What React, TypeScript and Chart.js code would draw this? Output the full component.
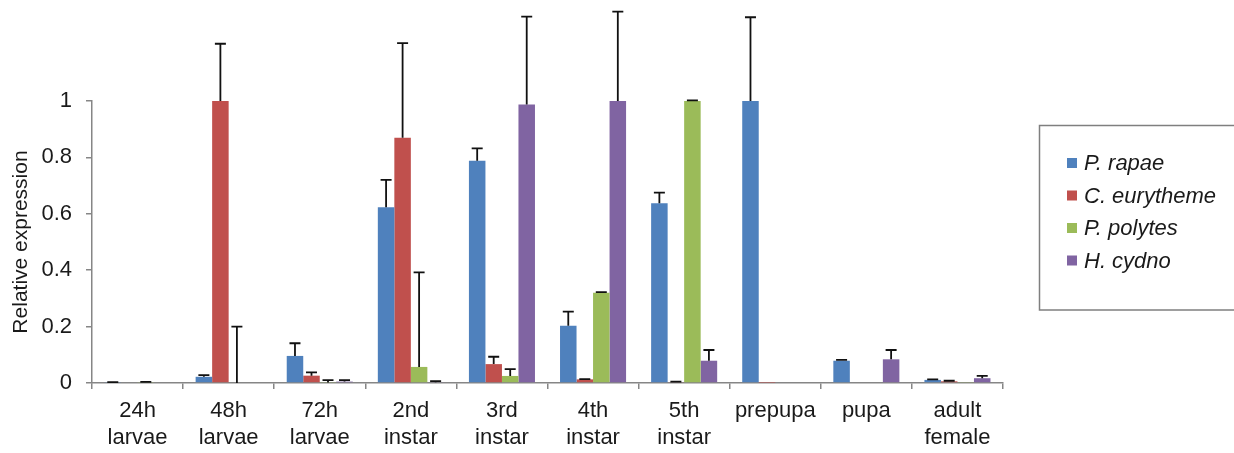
import React, { useEffect, useRef } from "react";
import { Chart, registerables } from "chart.js";

Chart.register(...registerables);

const categories: (string | string[])[] = [
  ["24h", "larvae"],
  ["48h", "larvae"],
  ["72h", "larvae"],
  ["2nd", "instar"],
  ["3rd", "instar"],
  ["4th", "instar"],
  ["5th", "instar"],
  "prepupa",
  "pupa",
  ["adult", "female"],
];

const seriesNames = ["P. rapae", "C. eurytheme", "P. polytes", "H. cydno"];
const seriesColors = ["#4F81BD", "#C0504D", "#9BBB59", "#8064A2"];

const pRapae = [0.002, 0.022, 0.096, 0.623, 0.788, 0.203, 0.637, 1.0, 0.079, 0.011];
const pRapaeErr = [0.001, 0.006, 0.045, 0.097, 0.044, 0.05, 0.038, 0.297, 0.003, 0.002];
const cEurytheme = [0, 1.0, 0.026, 0.87, 0.067, 0.013, 0.003, 0.001, 0, 0.006];
const cEurythemeErr = [0, 0.203, 0.012, 0.335, 0.026, 0.001, 0.002, 0, 0, 0.002];
const pPolytes = [0.002, 0, 0.002, 0.057, 0.025, 0.32, 1.0, 0, 0, 0.002];
const pPolytesErr = [0.002, 0.2, 0.008, 0.335, 0.024, 0.002, 0.002, 0, 0, 0];
const hCydno = [0, 0, 0.005, 0.003, 0.988, 1.0, 0.079, 0, 0.084, 0.017];
const hCydnoErr = [0, 0, 0.005, 0.004, 0.311, 0.317, 0.038, 0, 0.033, 0.008];

const yTicks = [0, 0.2, 0.4, 0.6, 0.8, 1];

const seriesValues = [pRapae, cEurytheme, pPolytes, hCydno];
const seriesErrors = [pRapaeErr, cEurythemeErr, pPolytesErr, hCydnoErr];

const FONT = "'Liberation Sans', Arial, sans-serif";
const AXIS = "#868686";

const errorBarPlugin = {
  id: "errorBars",
  afterDatasetsDraw(chart: any) {
    const ctx = chart.ctx;
    const yScale = chart.scales.y;
    ctx.save();
    ctx.strokeStyle = "#111111";
    ctx.lineWidth = 1.8;
    chart.data.datasets.forEach((ds: any, di: number) => {
      const meta = chart.getDatasetMeta(di);
      const errs = seriesErrors[di];
      meta.data.forEach((bar: any, i: number) => {
        const err = errs[i];
        if (!err) return;
        const v = ds.data[i];
        const yBase = yScale.getPixelForValue(v);
        const yTop = yScale.getPixelForValue(v + err);
        const x = bar.x;
        ctx.beginPath();
        ctx.moveTo(x, yBase);
        ctx.lineTo(x, yTop);
        ctx.moveTo(x - 5.5, yTop);
        ctx.lineTo(x + 5.5, yTop);
        ctx.stroke();
      });
    });
    ctx.restore();
  },
};

const legendBoxPlugin = {
  id: "legendBox",
  afterDraw(chart: any) {
    const ctx = chart.ctx;
    ctx.save();
    ctx.strokeStyle = "#7f7f7f";
    ctx.lineWidth = 1.5;
    ctx.strokeRect(1039.5, 125.5, 210, 184.5);
    ctx.font = `italic 22px ${FONT}`;
    ctx.textBaseline = "middle";
    ctx.textAlign = "left";
    chart.data.datasets.forEach((ds: any, i: number) => {
      const cy = 163 + i * 32.5;
      ctx.fillStyle = ds.backgroundColor;
      ctx.fillRect(1067, cy - 5, 10, 10);
      ctx.fillStyle = "#1a1a1a";
      ctx.fillText(ds.label, 1084, cy + 1);
    });
    ctx.restore();
  },
};

export default function App() {
  const canvasRef = useRef<HTMLCanvasElement | null>(null);

  useEffect(() => {
    if (!canvasRef.current) return;
    const chart = new Chart(canvasRef.current, {
      type: "bar",
      data: {
        labels: categories as any,
        datasets: seriesNames.map((name, i) => ({
          label: name,
          data: seriesValues[i],
          backgroundColor: seriesColors[i],
          borderWidth: 0,
          categoryPercentage: 0.725,
          barPercentage: 1,
        })),
      },
      options: {
        animation: false,
        responsive: true,
        maintainAspectRatio: false,
        layout: { padding: { top: 101, right: 231, bottom: 0, left: 0 } },
        plugins: {
          legend: { display: false },
          tooltip: { enabled: false },
        },
        scales: {
          x: {
            afterFit(scale: any) {
              scale.height = 70;
            },
            grid: {
              display: true,
              offset: true,
              drawOnChartArea: false,
              drawTicks: true,
              tickLength: 6,
              color: AXIS,
              lineWidth: 1.5,
            },
            border: { display: true, color: AXIS, width: 1.5 },
            ticks: {
              color: "#1a1a1a",
              font: { family: FONT, size: 22, lineHeight: 1.23 },
              padding: 8,
              maxRotation: 0,
              autoSkip: false,
            },
          },
          y: {
            min: 0,
            max: 1,
            afterFit(scale: any) {
              scale.width = 92;
            },
            afterBuildTicks(scale: any) {
              scale.ticks = yTicks.map((v) => ({ value: v }));
            },
            grid: {
              display: true,
              drawOnChartArea: false,
              drawTicks: true,
              tickLength: 6,
              color: AXIS,
              lineWidth: 1.5,
            },
            border: { display: true, color: AXIS, width: 1.5 },
            ticks: {
              color: "#1a1a1a",
              font: { family: FONT, size: 22 },
              padding: 14,
              callback: (v: any) => String(Math.round(Number(v) * 10) / 10),
            },
            title: {
              display: true,
              text: "Relative expression",
              color: "#1a1a1a",
              font: { family: FONT, size: 21 },
              padding: { top: 9, bottom: 0 },
            },
          },
        },
      },
      plugins: [errorBarPlugin, legendBoxPlugin],
    });
    return () => chart.destroy();
  }, []);

  return (
    <div style={{ position: "fixed", left: 0, top: 0, width: 1234, height: 453, background: "#fff" }}>
      <canvas ref={canvasRef} />
    </div>
  );
}
